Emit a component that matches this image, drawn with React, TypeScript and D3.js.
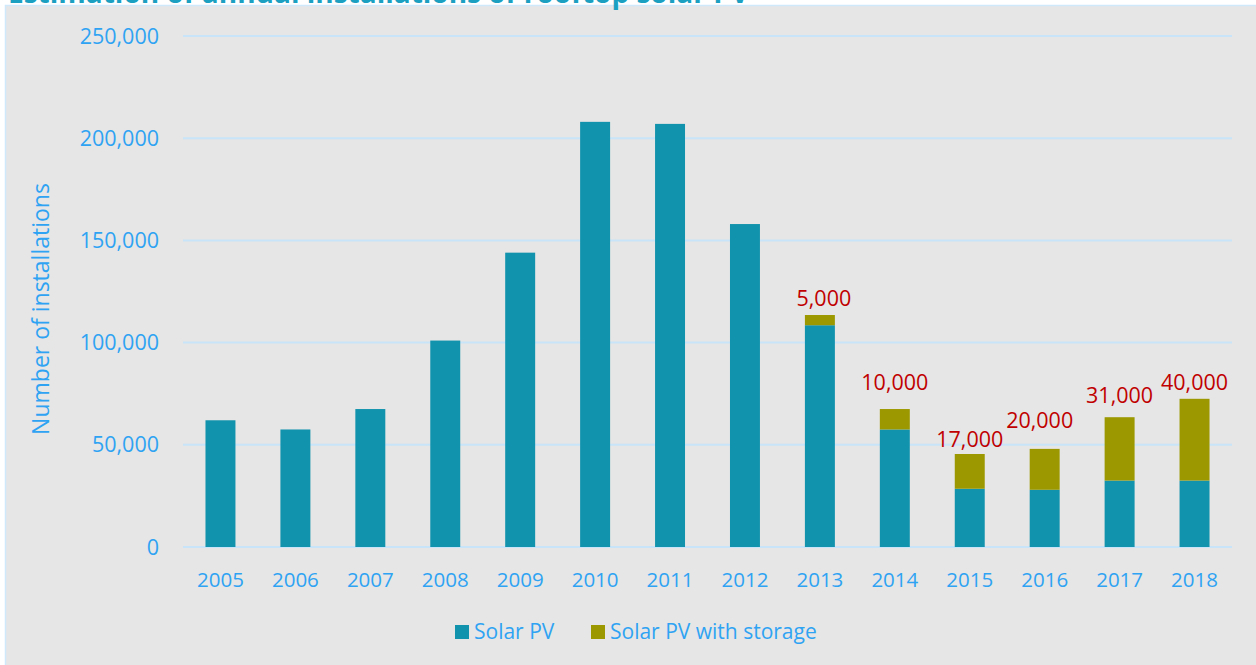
import React from "react";
import * as d3 from "d3";

const years = ["2005","2006","2007","2008","2009","2010","2011","2012","2013","2014","2015","2016","2017","2018"];
const solarPV = [62000, 57500, 67500, 101000, 144000, 208000, 207000, 158000, 108500, 57500, 28500, 28000, 32500, 32500];
const solarPVStorage = [0, 0, 0, 0, 0, 0, 0, 0, 5000, 10000, 17000, 20000, 31000, 40000];
const storageLabels = ["", "", "", "", "", "", "", "", "5,000", "10,000", "17,000", "20,000", "31,000", "40,000"];
const yTicks = [0, 50000, 100000, 150000, 200000, 250000];
const seriesNames = ["Solar PV", "Solar PV with storage"];

// annotation placement tweaks (pixels)
const labelDx = [0, 0, 0, 0, 0, 0, 0, 0, 4, 0, 0, -5, 0, 0];
const labelDy = [0, 0, 0, 0, 0, 0, 0, 0, 9, 19, 7, 21, 14, 9];

const W = 1256;
const H = 665;
const FONT = "'Open Sans', sans-serif";
const PV_COLOR = "#1293ad";
const ST_COLOR = "#9c9900";
const TEXT_BLUE = "#2fa3f3";
const GRID = "#c8e4f8";

export default function App() {
  const x = d3.scaleBand<string>().domain(years).range([183, 1232]).paddingInner(0.6).paddingOuter(0.3);
  const y = d3.scaleLinear().domain([0, 250000]).range([547, 36]);
  const fmt = d3.format(",");

  return (
    <svg width={W} height={H} style={{ position: "absolute", left: 0, top: 0 }} fontFamily={FONT}>
      <rect x={0} y={0} width={W} height={H} fill="#ffffff" />
      <rect x={5.5} y={5.5} width={W + 10} height={H + 10} fill="#e6e6e6" stroke="#cfe8fa" strokeWidth={1.5} />
      <text x={8} y={3} fontSize={28} fontWeight="bold" fill="#1ba0c2">
        Estimation of annual installations of rooftop solar PV
      </text>

      {yTicks.map((t) => (
        <g key={t}>
          <line x1={183} x2={1232} y1={y(t)} y2={y(t)} stroke={GRID} strokeWidth={2} />
          <text x={159} y={y(t)} dy="0.35em" textAnchor="end" fontSize={21.5} fill={TEXT_BLUE}>
            {fmt(t)}
          </text>
        </g>
      ))}

      <text
        transform={`translate(40,309) rotate(-90)`}
        textAnchor="middle"
        dominantBaseline="central"
        fontSize={23}
        fill={TEXT_BLUE}
      >
        Number of installations
      </text>

      {years.map((yr, i) => {
        const bx = x(yr)!;
        const bw = x.bandwidth();
        const pvTop = y(solarPV[i]);
        const total = solarPV[i] + solarPVStorage[i];
        const totTop = y(total);
        return (
          <g key={yr}>
            <rect x={bx} y={pvTop} width={bw} height={y(0) - pvTop} fill={PV_COLOR} />
            {solarPVStorage[i] > 0 && (
              <rect x={bx} y={totTop} width={bw} height={pvTop - totTop} fill={ST_COLOR} />
            )}
            {storageLabels[i] && (
              <text
                x={bx + bw / 2 + labelDx[i]}
                y={totTop - labelDy[i]}
                textAnchor="middle"
                fontSize={21.5}
                fill="#c00000"
              >
                {storageLabels[i]}
              </text>
            )}
            <text x={bx + bw / 2} y={587} textAnchor="middle" fontSize={20.5} fill={TEXT_BLUE}>
              {yr}
            </text>
          </g>
        );
      })}

      <g>
        <rect x={455} y={625} width={14} height={14} fill={PV_COLOR} />
        <text x={474} y={639} fontSize={21} fill={TEXT_BLUE}>{seriesNames[0]}</text>
        <rect x={591} y={625} width={14} height={14} fill={ST_COLOR} />
        <text x={610} y={639} fontSize={21} fill={TEXT_BLUE}>{seriesNames[1]}</text>
      </g>
    </svg>
  );
}
